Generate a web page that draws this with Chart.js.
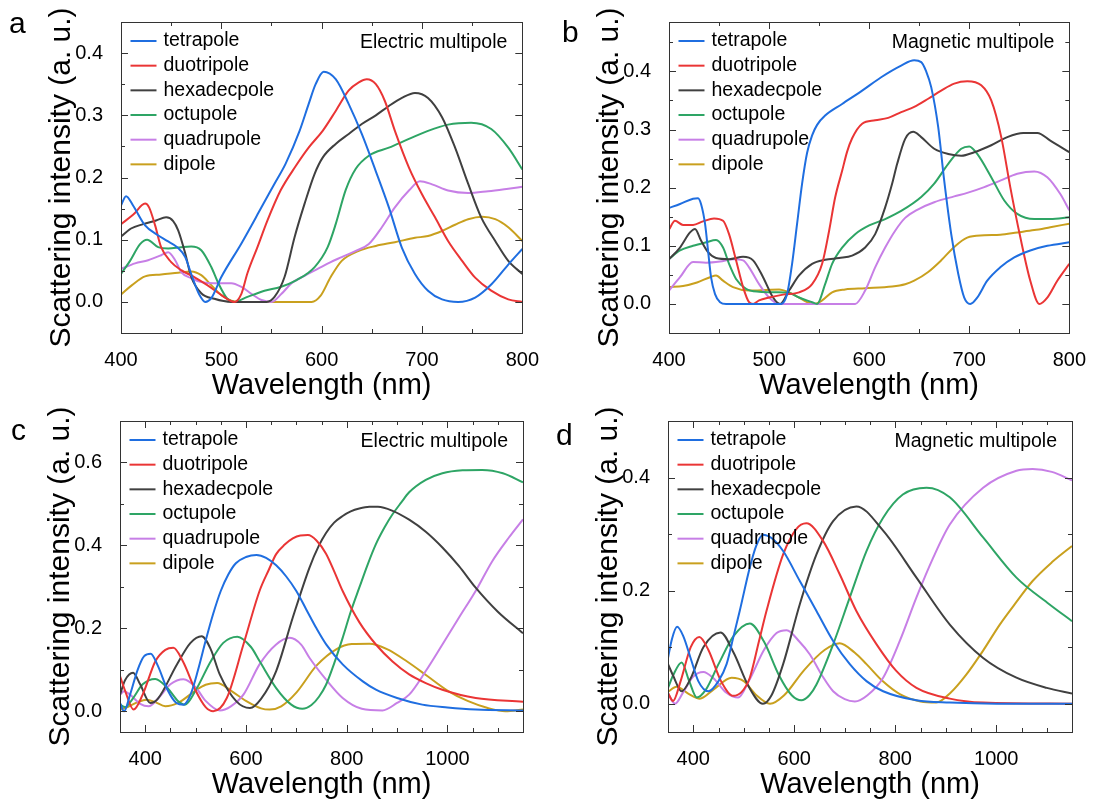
<!DOCTYPE html>
<html>
<head>
<meta charset="utf-8">
<script src="https://cdn.jsdelivr.net/npm/chart.js@4.4.1/dist/chart.umd.min.js"></script>
<style>
  body { margin: 0; background: #fff; width: 1093px; height: 799px; position: relative; overflow: hidden; }
  canvas { position: absolute; }
</style>
</head>
<body>
<canvas id="pa" width="546" height="400" style="left:0;top:0"></canvas>
<canvas id="pb" width="547" height="400" style="left:546px;top:0"></canvas>
<canvas id="pc" width="546" height="400" style="left:0;top:399px"></canvas>
<canvas id="pd" width="547" height="400" style="left:546px;top:399px"></canvas>
<script>
// series names / colours (same order in every panel)
var seriesNames = ['tetrapole', 'duotripole', 'hexadecpole', 'octupole', 'quadrupole', 'dipole'];
var seriesColors = ['#1f6ee0', '#ea3535', '#404040', '#2ea565', '#c77fe6', '#c9a01e'];

// tick labels
var xTicksAB = [400, 500, 600, 700, 800];
var xTicksCD = [400, 600, 800, 1000];
var yTicksAB = [0, 0.1, 0.2, 0.3, 0.4];
var yTicksC = [0, 0.2, 0.4, 0.6];
var yTicksD = [0, 0.2, 0.4];

// panel a : electric multipole, [wavelength nm, intensity]
var aTetra = [[400,0.155],[405,0.17],[412,0.155],[424,0.123],[436,0.108],[446,0.098],[456,0.088],[464,0.072],[471,0.04],[478,0.012],[484,0.0],[490,0.006],[500,0.04],[520,0.094],[540,0.152],[553,0.19],[564,0.222],[578,0.275],[587,0.318],[594,0.35],[602,0.37],[614,0.358],[627,0.318],[640,0.27],[654,0.21],[667,0.152],[680,0.087],[693,0.045],[706,0.018],[720,0.004],[736,0.0],[753,0.007],[769,0.028],[786,0.06],[800,0.085]];
var aDuo = [[400,0.125],[412,0.14],[424,0.158],[428,0.152],[434,0.123],[440,0.088],[450,0.064],[460,0.051],[473,0.04],[486,0.027],[500,0.011],[513,0.0],[520,0.013],[526,0.046],[536,0.088],[546,0.131],[559,0.179],[574,0.218],[587,0.248],[601,0.275],[614,0.307],[627,0.34],[637,0.353],[645,0.358],[654,0.35],[663,0.323],[673,0.275],[687,0.216],[700,0.173],[713,0.136],[726,0.098],[740,0.066],[753,0.039],[769,0.018],[786,0.004],[800,0.0]];
var aHexa = [[400,0.105],[410,0.118],[422,0.125],[435,0.131],[445,0.136],[452,0.13],[457,0.115],[464,0.078],[470,0.04],[480,0.014],[493,0.005],[510,0.0],[545,0.0],[553,0.008],[563,0.04],[573,0.104],[583,0.158],[593,0.206],[601,0.232],[614,0.254],[627,0.27],[640,0.286],[654,0.3],[667,0.315],[680,0.328],[693,0.336],[706,0.328],[720,0.297],[733,0.248],[746,0.19],[759,0.136],[773,0.098],[786,0.066],[800,0.045]];
var aOct = [[400,0.045],[409,0.066],[419,0.093],[426,0.1],[437,0.088],[447,0.086],[460,0.088],[470,0.089],[480,0.083],[490,0.056],[497,0.03],[506,0.005],[513,0.0],[526,0.008],[543,0.018],[559,0.024],[575,0.035],[593,0.056],[606,0.088],[614,0.125],[624,0.18],[634,0.214],[647,0.235],[667,0.248],[687,0.262],[706,0.275],[726,0.285],[749,0.288],[769,0.278],[786,0.248],[800,0.213]];
var aQuad = [[400,0.053],[414,0.062],[427,0.067],[440,0.075],[447,0.08],[454,0.067],[460,0.048],[470,0.038],[480,0.032],[493,0.03],[510,0.03],[520,0.024],[530,0.013],[540,0.003],[550,0.0],[560,0.013],[570,0.03],[583,0.042],[596,0.053],[609,0.064],[620,0.072],[634,0.082],[647,0.093],[660,0.12],[673,0.152],[687,0.179],[698,0.194],[710,0.189],[726,0.179],[746,0.175],[766,0.178],[786,0.182],[800,0.185]];
var aDip = [[400,0.012],[411,0.027],[424,0.041],[440,0.044],[457,0.047],[470,0.049],[480,0.043],[490,0.027],[500,0.011],[510,0.002],[520,0.0],[590,0.0],[599,0.01],[609,0.04],[620,0.066],[637,0.082],[654,0.09],[673,0.096],[693,0.103],[706,0.106],[720,0.114],[733,0.124],[746,0.133],[760,0.137],[773,0.133],[786,0.12],[800,0.098]];

// panel b : magnetic multipole
var bTetra = [[400,0.165],[411,0.172],[424,0.181],[429,0.182],[432,0.172],[436,0.138],[439,0.092],[442,0.046],[446,0.017],[451,0.003],[457,0.0],[512,0.0],[518,0.017],[523,0.069],[528,0.138],[533,0.207],[538,0.26],[543,0.29],[548,0.308],[556,0.324],[573,0.344],[593,0.367],[612,0.39],[632,0.41],[645,0.419],[652,0.416],[657,0.4],[662,0.373],[669,0.304],[675,0.212],[682,0.12],[689,0.052],[695,0.011],[701,0.0],[708,0.011],[718,0.04],[731,0.063],[745,0.08],[761,0.092],[778,0.1],[800,0.106]];
var bDuo = [[400,0.128],[406,0.143],[414,0.136],[424,0.136],[434,0.142],[445,0.147],[454,0.143],[460,0.12],[467,0.075],[474,0.029],[480,0.003],[484,0.0],[490,0.006],[500,0.011],[514,0.016],[530,0.02],[543,0.034],[553,0.069],[560,0.126],[566,0.183],[573,0.229],[578,0.262],[583,0.285],[593,0.31],[606,0.316],[619,0.32],[632,0.33],[645,0.339],[659,0.353],[672,0.367],[685,0.379],[698,0.383],[712,0.376],[722,0.35],[732,0.287],[741,0.201],[751,0.115],[761,0.04],[770,0.0],[778,0.011],[788,0.04],[800,0.069]];
var bHexa = [[400,0.077],[411,0.097],[421,0.123],[426,0.129],[432,0.109],[439,0.089],[447,0.079],[460,0.077],[474,0.081],[484,0.075],[494,0.046],[504,0.011],[511,0.0],[520,0.023],[530,0.049],[543,0.069],[556,0.076],[570,0.079],[583,0.083],[596,0.097],[606,0.12],[616,0.166],[623,0.207],[628,0.241],[636,0.284],[644,0.296],[652,0.287],[665,0.267],[679,0.258],[692,0.255],[705,0.261],[722,0.273],[738,0.287],[754,0.294],[768,0.294],[781,0.281],[800,0.261]];
var bOct = [[400,0.077],[411,0.092],[424,0.1],[437,0.106],[447,0.11],[454,0.097],[460,0.069],[467,0.043],[477,0.026],[490,0.021],[507,0.02],[520,0.019],[530,0.011],[543,0.003],[548,0.0],[556,0.034],[563,0.069],[573,0.097],[586,0.12],[600,0.135],[616,0.146],[632,0.16],[652,0.184],[665,0.207],[679,0.241],[692,0.267],[700,0.271],[708,0.258],[722,0.218],[735,0.178],[748,0.155],[765,0.146],[781,0.146],[800,0.149]];
var bQuad = [[400,0.023],[411,0.046],[424,0.072],[437,0.071],[451,0.073],[464,0.077],[474,0.075],[480,0.063],[490,0.034],[500,0.011],[510,0.0],[586,0.0],[596,0.023],[606,0.063],[616,0.097],[626,0.126],[636,0.148],[648,0.162],[665,0.175],[685,0.185],[698,0.191],[715,0.201],[731,0.212],[748,0.224],[765,0.228],[778,0.218],[791,0.189],[800,0.161]];
var bDip = [[400,0.029],[414,0.031],[428,0.037],[441,0.046],[447,0.049],[454,0.04],[464,0.029],[480,0.023],[497,0.024],[510,0.025],[520,0.02],[530,0.011],[538,0.003],[545,0.0],[553,0.006],[563,0.02],[576,0.025],[596,0.027],[623,0.03],[636,0.034],[645,0.04],[659,0.055],[672,0.075],[685,0.098],[698,0.114],[715,0.118],[731,0.119],[748,0.123],[765,0.127],[781,0.132],[800,0.138]];

// panel c : electric multipole, 350-1150 nm
var cTetra = [[350,0.02],[358,0.0],[370,0.04],[385,0.1],[398,0.133],[411,0.139],[425,0.11],[445,0.05],[462,0.02],[476,0.016],[490,0.04],[505,0.1],[520,0.17],[535,0.235],[550,0.29],[565,0.33],[580,0.357],[600,0.372],[621,0.377],[640,0.37],[660,0.352],[680,0.325],[700,0.29],[720,0.245],[740,0.2],[760,0.16],[792,0.113],[832,0.072],[858,0.052],[900,0.032],[950,0.016],[1000,0.009],[1056,0.004],[1150,0.002]];
var cDuo = [[350,0.085],[360,0.05],[377,0.004],[395,0.04],[420,0.12],[440,0.148],[456,0.153],[475,0.12],[500,0.05],[520,0.01],[535,0.0],[562,0.032],[595,0.161],[627,0.29],[645,0.34],[660,0.379],[677,0.402],[693,0.417],[708,0.424],[723,0.425],[740,0.412],[759,0.38],[775,0.338],[792,0.29],[825,0.215],[858,0.161],[891,0.12],[924,0.089],[957,0.068],[990,0.052],[1056,0.032],[1150,0.023]];
var cHexa = [[350,0.04],[360,0.075],[376,0.093],[390,0.065],[410,0.02],[425,0.03],[463,0.113],[490,0.165],[512,0.181],[530,0.15],[548,0.089],[581,0.024],[608,0.008],[630,0.03],[660,0.097],[693,0.226],[726,0.346],[745,0.4],[759,0.43],[775,0.455],[792,0.471],[808,0.482],[825,0.489],[845,0.493],[862,0.493],[890,0.484],[924,0.462],[957,0.433],[990,0.395],[1023,0.35],[1056,0.298],[1100,0.24],[1150,0.188]];
var cOct = [[350,0.016],[360,0.01],[375,0.03],[395,0.065],[420,0.078],[445,0.055],[465,0.025],[479,0.016],[500,0.05],[530,0.12],[555,0.165],[583,0.18],[610,0.155],[627,0.121],[660,0.056],[690,0.016],[712,0.006],[730,0.015],[745,0.035],[759,0.064],[775,0.115],[792,0.177],[808,0.24],[825,0.298],[842,0.355],[858,0.403],[875,0.443],[891,0.475],[908,0.503],[924,0.528],[957,0.558],[990,0.574],[1030,0.581],[1069,0.582],[1110,0.574],[1150,0.552]];
var cQuad = [[350,0.04],[358,0.048],[370,0.04],[390,0.018],[407,0.012],[425,0.03],[450,0.065],[476,0.077],[500,0.058],[520,0.025],[548,0.002],[570,0.012],[595,0.04],[627,0.113],[660,0.161],[687,0.177],[710,0.16],[726,0.129],[760,0.075],[792,0.032],[830,0.006],[871,0.002],[900,0.02],[924,0.04],[957,0.097],[990,0.161],[1023,0.226],[1056,0.29],[1089,0.362],[1122,0.419],[1150,0.463]];
var cDip = [[350,0.004],[365,0.01],[385,0.022],[403,0.028],[420,0.022],[440,0.012],[465,0.02],[500,0.05],[520,0.064],[543,0.068],[570,0.05],[600,0.025],[630,0.007],[647,0.004],[670,0.012],[700,0.045],[740,0.11],[780,0.15],[810,0.162],[845,0.163],[880,0.15],[920,0.12],[960,0.085],[1000,0.05],[1040,0.025],[1080,0.008],[1115,0.0],[1150,0.004]];

// panel d : magnetic multipole, 350-1150 nm
var dTetra = [[350,0.081],[358,0.115],[368,0.136],[380,0.12],[395,0.08],[410,0.04],[430,0.022],[450,0.04],[466,0.07],[480,0.12],[492,0.164],[512,0.241],[525,0.28],[538,0.299],[555,0.293],[578,0.27],[611,0.217],[644,0.164],[677,0.111],[710,0.07],[743,0.04],[776,0.022],[842,0.006],[908,0.002],[1000,0.0],[1150,0.0]];
var dDuo = [[350,0.019],[360,0.005],[375,0.04],[395,0.1],[412,0.118],[430,0.095],[455,0.04],[479,0.014],[495,0.02],[512,0.046],[530,0.11],[545,0.164],[578,0.264],[604,0.309],[624,0.319],[657,0.288],[690,0.229],[723,0.164],[763,0.105],[802,0.058],[842,0.028],[908,0.009],[974,0.002],[1150,0.0]];
var dHexa = [[350,0.07],[360,0.05],[377,0.022],[395,0.045],[420,0.1],[454,0.126],[480,0.09],[510,0.03],[538,0.0],[555,0.015],[578,0.07],[611,0.176],[644,0.264],[677,0.323],[723,0.349],[776,0.306],[842,0.223],[908,0.14],[974,0.081],[1040,0.046],[1100,0.028],[1150,0.018]];
var dOct = [[350,0.028],[360,0.05],[377,0.073],[392,0.04],[407,0.011],[425,0.025],[450,0.07],[480,0.12],[512,0.142],[540,0.11],[570,0.05],[595,0.015],[614,0.006],[630,0.015],[644,0.034],[677,0.105],[710,0.188],[743,0.27],[776,0.329],[815,0.37],[862,0.382],[908,0.365],[974,0.294],[1040,0.223],[1105,0.176],[1150,0.146]];
var dQuad = [[350,0.019],[358,0.005],[364,0.0],[380,0.02],[400,0.048],[420,0.056],[440,0.045],[465,0.02],[489,0.011],[510,0.04],[540,0.095],[565,0.125],[585,0.13],[610,0.11],[631,0.087],[655,0.05],[677,0.022],[700,0.008],[720,0.004],[745,0.015],[776,0.046],[809,0.111],[842,0.188],[875,0.258],[908,0.317],[974,0.382],[1040,0.412],[1072,0.415],[1110,0.41],[1150,0.395]];
var dDip = [[350,0.021],[367,0.03],[390,0.018],[413,0.009],[440,0.025],[476,0.046],[500,0.04],[525,0.015],[552,0.0],[580,0.015],[620,0.06],[660,0.095],[690,0.107],[720,0.09],[743,0.07],[775,0.04],[809,0.017],[850,0.004],[881,0.002],[910,0.02],[941,0.052],[974,0.094],[1007,0.14],[1040,0.18],[1072,0.217],[1110,0.25],[1150,0.279]];

var FONT = "Arial, 'Liberation Sans', sans-serif";

var panels = [
  { id: 'pa', letter: 'a', lx: 9, ly: 33, note: 'Electric multipole',
    series: [aTetra, aDuo, aHexa, aOct, aQuad, aDip],
    xMin: 400, xMax: 800, xTicks: xTicksAB, xMinor: 50,
    yMin: -0.05, yMax: 0.45, yTicks: yTicksAB, yMinor: 0.05,
    top: 22, right: 22, yw: 121, titleX: 62 },
  { id: 'pb', letter: 'b', lx: 16, ly: 42, note: 'Magnetic multipole',
    series: [bTetra, bDuo, bHexa, bOct, bQuad, bDip],
    xMin: 400, xMax: 800, xTicks: xTicksAB, xMinor: 50,
    yMin: -0.05, yMax: 0.485, yTicks: yTicksAB, yMinor: 0.05,
    top: 22, right: 21, yw: 123, titleX: 64 },
  { id: 'pc', letter: 'c', lx: 11, ly: 41, note: 'Electric multipole',
    series: [cTetra, cDuo, cHexa, cOct, cQuad, cDip],
    xMin: 350, xMax: 1150, xTicks: xTicksCD, xMinor: 50,
    yMin: -0.05, yMax: 0.7, yTicks: yTicksC, yMinor: 0.1,
    top: 21, right: 23, yw: 120, titleX: 61 },
  { id: 'pd', letter: 'd', lx: 10, ly: 46, note: 'Magnetic multipole',
    series: [dTetra, dDuo, dHexa, dOct, dQuad, dDip],
    xMin: 350, xMax: 1150, xTicks: xTicksCD, xMinor: 50,
    yMin: -0.05, yMax: 0.5, yTicks: yTicksD, yMinor: 0.1,
    top: 21, right: 21, yw: 122, titleX: 63 }
];

function tickValues(min, max, step) {
  var out = [];
  var i = Math.ceil(min / step - 1e-9);
  while (i * step <= max + 1e-9) { out.push(i * step); i++; }
  return out;
}

function isMajor(list, v) {
  return list.some(function (t) { return Math.abs(t - v) < 1e-6; });
}

function decoPlugin(p) {
  return {
    id: 'deco',
    afterDraw: function (chart) {
      var ctx = chart.ctx, a = chart.chartArea;
      var xs = chart.scales.x, ys = chart.scales.y;
      ctx.save();
      ctx.strokeStyle = '#333';
      ctx.lineWidth = 1;
      ctx.beginPath();
      // inward ticks on all four sides
      tickValues(p.xMin, p.xMax, p.xMinor).forEach(function (v) {
        var len = isMajor(p.xTicks, v) ? 7 : 4;
        var px = Math.round(xs.getPixelForValue(v)) + 0.5;
        ctx.moveTo(px, a.bottom); ctx.lineTo(px, a.bottom - len);
        ctx.moveTo(px, a.top); ctx.lineTo(px, a.top + len);
      });
      tickValues(p.yMin, p.yMax, p.yMinor).forEach(function (v) {
        var len = isMajor(p.yTicks, v) ? 7 : 4;
        var py = Math.round(ys.getPixelForValue(v)) + 0.5;
        ctx.moveTo(a.left, py); ctx.lineTo(a.left + len, py);
        ctx.moveTo(a.right, py); ctx.lineTo(a.right - len, py);
      });
      ctx.stroke();
      ctx.strokeRect(Math.round(a.left) + 0.5, Math.round(a.top) + 0.5,
                     Math.round(a.right - a.left), Math.round(a.bottom - a.top));

      // legend inside the plot
      ctx.font = '19.5px ' + FONT;
      ctx.textBaseline = 'middle';
      ctx.textAlign = 'left';
      chart.data.datasets.forEach(function (ds, i) {
        var y = a.top + 19 + i * 24.67;
        ctx.strokeStyle = ds.borderColor;
        ctx.lineWidth = 2;
        ctx.beginPath();
        ctx.moveTo(a.left + 9.5, y); ctx.lineTo(a.left + 35.5, y);
        ctx.stroke();
        ctx.fillStyle = '#000';
        ctx.fillText(ds.label, a.left + 42.5, y);
      });

      // panel note
      ctx.textAlign = 'right';
      ctx.fillText(p.note, a.right - 15, a.top + 21);

      // panel letter
      ctx.textAlign = 'left';
      ctx.textBaseline = 'alphabetic';
      ctx.font = '30px ' + FONT;
      ctx.fillText(p.letter, p.lx, p.ly);
      ctx.restore();
    }
  };
}

function makePanel(p) {
  var canvas = document.getElementById(p.id);
  var datasets = p.series.map(function (s, i) {
    return {
      label: seriesNames[i],
      data: s.map(function (pt) { return { x: pt[0], y: pt[1] }; }),
      borderColor: seriesColors[i],
      borderWidth: 2,
      pointRadius: 0,
      fill: false,
      cubicInterpolationMode: 'monotone'
    };
  });
  return new Chart(canvas.getContext('2d'), {
    type: 'line',
    data: { datasets: datasets },
    options: {
      responsive: false,
      animation: false,
      layout: { padding: { top: p.top, right: p.right, left: 0, bottom: 0 } },
      plugins: { legend: { display: false }, tooltip: { enabled: false } },
      scales: {
        x: {
          type: 'linear', min: p.xMin, max: p.xMax,
          grid: { display: false }, border: { display: false },
          afterBuildTicks: function (s) { s.ticks = p.xTicks.map(function (v) { return { value: v }; }); },
          afterFit: function (s) { s.height = 67; },
          ticks: { autoSkip: false, maxRotation: 0, padding: 7, color: '#000',
                   font: { family: FONT, size: 20 },
                   callback: function (v) { return String(v); } },
          title: { display: true, text: 'Wavelength (nm)', color: '#000',
                   font: { family: FONT, size: 29, lineHeight: 1 }, padding: { top: 0, bottom: 0 } }
        },
        y: {
          type: 'linear', min: p.yMin, max: p.yMax,
          grid: { display: false }, border: { display: false },
          afterBuildTicks: function (s) { s.ticks = p.yTicks.map(function (v) { return { value: v }; }); },
          afterFit: function (s) { s.width = p.yw; },
          ticks: { autoSkip: false, padding: 10, color: '#000',
                   font: { family: FONT, size: 20 },
                   callback: function (v) { return Number(v).toFixed(1); } },
          title: { display: true, text: 'Scattering intensity (a. u.)', color: '#000',
                   font: { family: FONT, size: 30, lineHeight: 1 },
                   padding: { top: p.titleX - 15, bottom: 0 } }
        }
      }
    },
    plugins: [decoPlugin(p)]
  });
}

window.onload = function () {
  panels.forEach(makePanel);
};
</script>
</body>
</html>
